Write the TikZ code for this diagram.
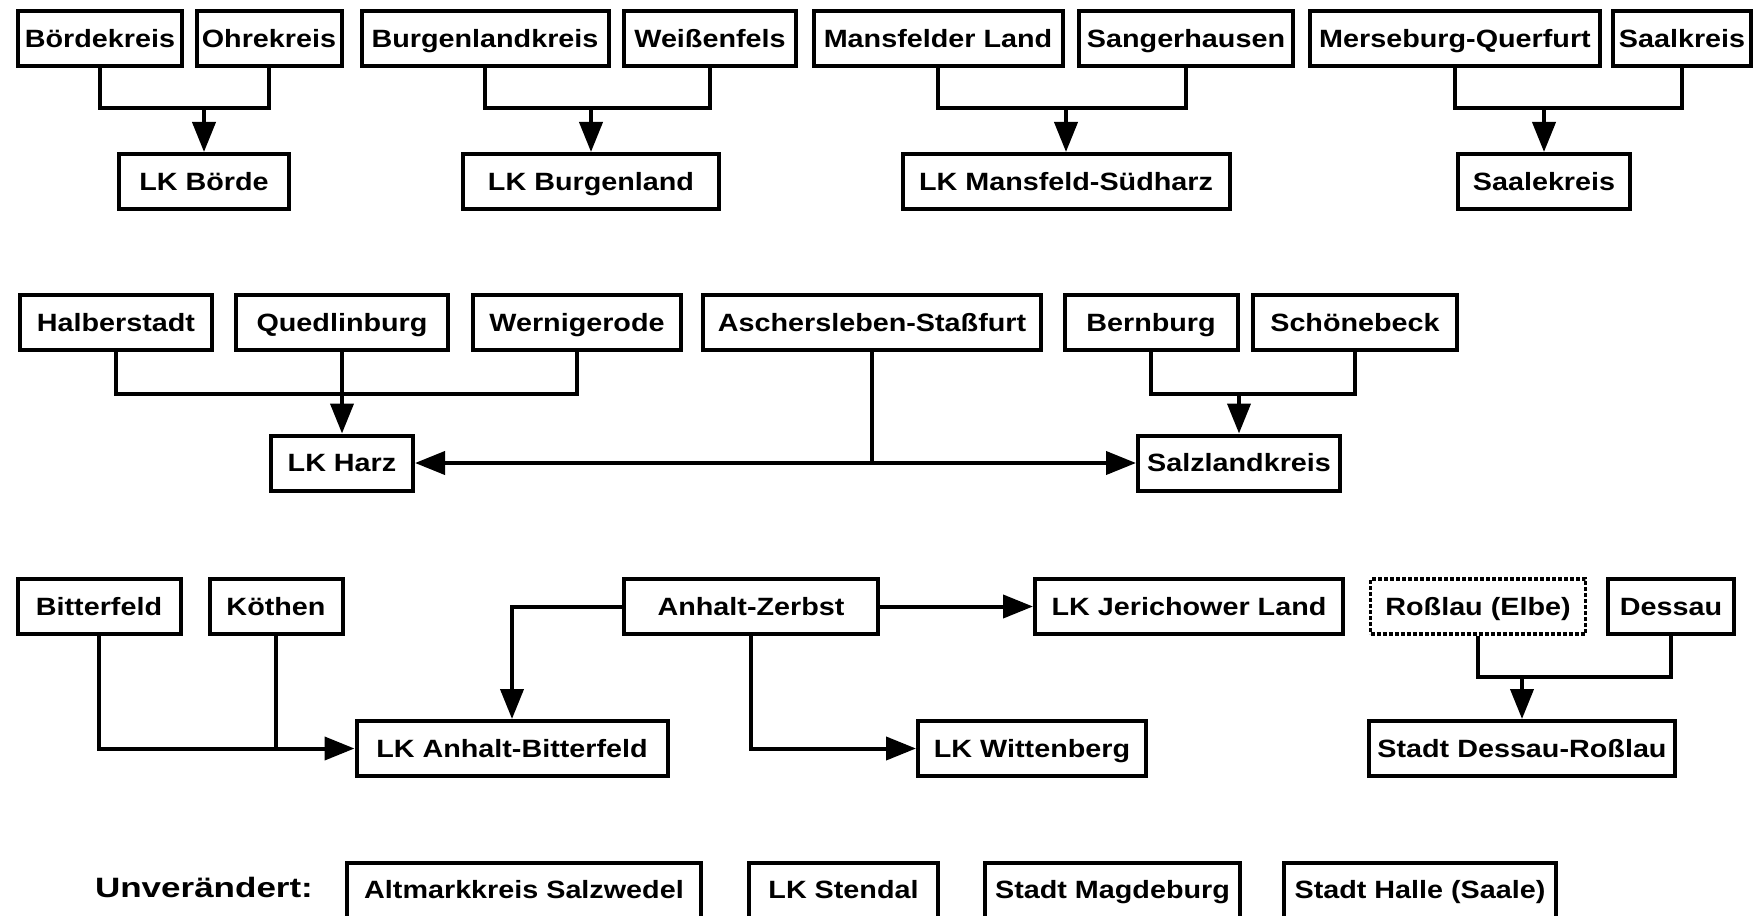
\documentclass[tikz,border=0pt]{standalone}
\usepackage{fontspec}
\setmainfont[FakeStretch=1.15]{Liberation Sans}
\newfontfamily\unvfont[FakeStretch=1.25]{Liberation Sans}
\usetikzlibrary{arrows.meta}
\begin{document}
\begin{tikzpicture}[x=0.5pt,y=-0.5pt,
  box/.style={draw, line width=2pt, inner sep=0pt, font=\bfseries\fontsize{12.5}{14}\selectfont,
    text height=8.95pt, text depth=0pt, minimum height=27.5pt},
  wd/.style={minimum width=#1*0.5pt},
  dotbox/.style={box, dash pattern=on 2pt off 1pt, line width=1.6pt},
  lowbox/.style={box, text height=8.95pt, text depth=-0.5pt},
  ln/.style={line width=2pt},
  arr/.style={line width=2pt, -{Triangle[length=15pt,width=11.5pt]}}]
\fill[white] (0,0) rectangle (1755,915);
\useasboundingbox (0,0) rectangle (1755,915);
% Row 1
\node[box,wd=164] (bk) at (100,38.5) {Bördekreis};
\node[box,wd=145] (ok) at (269,38.5) {Ohrekreis};
\node[box,wd=247] (bl) at (485,38.5) {Burgenlandkreis};
\node[box,wd=172] (wf) at (710,38.5) {Weißenfels};
\node[box,wd=249] (ml) at (938,38.5) {Mansfelder Land};
\node[box,wd=214] (sh) at (1186,38.5) {Sangerhausen};
\node[box,wd=290] (mq) at (1455,38.5) {Merseburg-Querfurt};
\node[box,wd=138] (sk) at (1682,38.5) {Saalkreis};
\node[box,wd=170] (lkb) at (204,181.5) {LK Börde};
\node[box,wd=256] (lkbl) at (591,181.5) {LK Burgenland};
\node[box,wd=327] (lkms) at (1066,181.5) {LK Mansfeld-Südharz};
\node[box,wd=172] (sak) at (1544,181.5) {Saalekreis};
\coordinate (j1) at (204,108);
\coordinate (j2) at (591,108);
\coordinate (j3) at (1066,108);
\coordinate (j4) at (1544,108);
\draw[ln] (bk.south) |- (j1) -| (ok.south);
\draw[arr] (j1) -- (lkb);
\draw[ln] (bl.south) |- (j2) -| (wf.south);
\draw[arr] (j2) -- (lkbl);
\draw[ln] (ml.south) |- (j3) -| (sh.south);
\draw[arr] (j3) -- (lkms);
\draw[ln] (mq.south) |- (j4) -| (sk.south);
\draw[arr] (j4) -- (sak);
% Row 2
\node[box,wd=192] (hb) at (116,322.5) {Halberstadt};
\node[box,wd=212] (qb) at (342,322.5) {Quedlinburg};
\node[box,wd=208] (wr) at (577,322.5) {Wernigerode};
\node[box,wd=338] (as) at (872,322.5) {Aschersleben-Staßfurt};
\node[box,wd=173] (bb) at (1151,322.5) {Bernburg};
\node[box,wd=204] (sb) at (1355,322.5) {Schönebeck};
\node[box,wd=142] (lkh) at (342,463) {LK Harz};
\node[box,wd=202] (slk) at (1239,463) {Salzlandkreis};
\coordinate (j5) at (342,394);
\coordinate (j6) at (1239,394);
\coordinate (j7) at (872,463);
\draw[ln] (hb.south) |- (j5) -| (wr.south);
\draw[arr] (qb.south) -- (lkh.north);
\draw[ln] (bb.south) |- (j6) -| (sb.south);
\draw[arr] (j6) -- (slk);
\draw[ln] (as.south) -- (j7);
\draw[arr] (j7) -- (lkh.east);
\draw[arr] (j7) -- (slk.west);
% Row 3
\node[box,wd=163] (bf) at (99,606.5) {Bitterfeld};
\node[box,wd=133] (kt) at (276,606.5) {Köthen};
\node[box,wd=254] (az) at (751,606.5) {Anhalt-Zerbst};
\node[box,wd=308] (jl) at (1189,606.5) {LK Jerichower Land};
\node[dotbox,wd=215] (rl) at (1478,606.5) {Roßlau (Elbe)};
\node[box,wd=126] (ds) at (1671,606.5) {Dessau};
\node[box,wd=311] (lkab) at (512,748.5) {LK Anhalt-Bitterfeld};
\node[box,wd=228] (wb) at (1032,748.5) {LK Wittenberg};
\node[box,wd=306] (sdr) at (1522,748.5) {Stadt Dessau-Roßlau};
\coordinate (j8) at (1522,677);
\draw[arr] (bf.south) |- (lkab.west);
\draw[ln] (kt.south) -- (kt.south |- lkab.west);
\draw[arr] (az.west) -| (lkab.north);
\draw[arr] (az.east) -- (jl.west);
\draw[arr] (az.south) |- (wb.west);
\draw[ln] (rl.south) |- (j8) -| (ds.south);
\draw[arr] (j8) -- (sdr);
% Row 4
\node[anchor=base, font=\unvfont\bfseries\fontsize{14}{16}\selectfont] (unv) at (204,897) {Unverändert:};
\node[lowbox,wd=354] (amk) at (524,890) {Altmarkkreis Salzwedel};
\node[lowbox,wd=189] (sdl) at (843.5,890) {LK Stendal};
\node[lowbox,wd=255] (md) at (1112.5,890) {Stadt Magdeburg};
\node[lowbox,wd=272] (hal) at (1420,890) {Stadt Halle (Saale)};
\end{tikzpicture}
\end{document}
